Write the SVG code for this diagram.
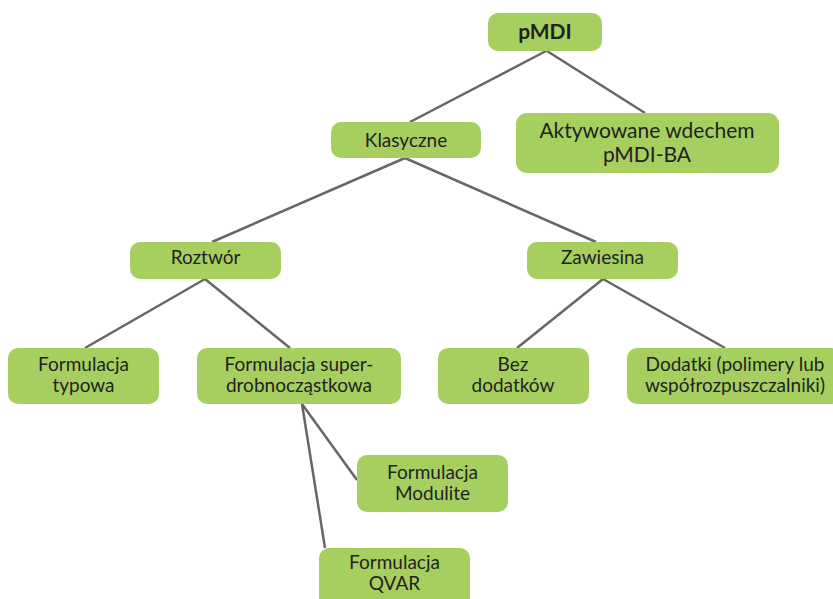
<svg xmlns="http://www.w3.org/2000/svg" width="833" height="599" viewBox="0 0 833 599">
<style>
.n rect{fill:#a6cf60;}
.n text{font-family:Lato,"Open Sans","Liberation Sans",sans-serif;font-size:19px;fill:#231f20;text-anchor:middle;}
.c line{stroke:#666666;stroke-width:2.5;}
</style>
<rect width="833" height="599" fill="#ffffff"/>
<g class="c">
<line x1="546" y1="51" x2="410" y2="122"/>
<line x1="547" y1="51" x2="645" y2="113"/>
<line x1="405" y1="158" x2="212" y2="242"/>
<line x1="405" y1="158" x2="596" y2="242"/>
<line x1="205" y1="279" x2="85" y2="348"/>
<line x1="205" y1="279" x2="290" y2="348"/>
<line x1="603" y1="279" x2="517" y2="348"/>
<line x1="603" y1="279" x2="725" y2="348"/>
<line x1="302" y1="404" x2="357" y2="480"/>
<line x1="302" y1="404" x2="325" y2="548"/>
</g>
<g id="pmdi" class="n"><rect x="488" y="13" width="114" height="38" rx="10"/><text x="545" y="39" style="font-weight:bold;font-size:21px">pMDI</text></g>
<g id="aktywowane" class="n"><rect x="516" y="113" width="263" height="60" rx="11"/><text x="647" y="138" style="font-size:21px">Aktywowane wdechem</text><text x="647" y="162" style="font-size:21px">pMDI-BA</text></g>
<g id="klasyczne" class="n"><rect x="331" y="122" width="150" height="36" rx="10"/><text x="406" y="147">Klasyczne</text></g>
<g id="roztwor" class="n"><rect x="130" y="242" width="151" height="37" rx="10"/><text x="205.5" y="264">Roztwór</text></g>
<g id="zawiesina" class="n"><rect x="527" y="242" width="151" height="37" rx="10"/><text x="602.5" y="264">Zawiesina</text></g>
<g id="typowa" class="n"><rect x="8" y="348" width="151" height="56" rx="10"/><text x="83.5" y="371">Formulacja</text><text x="83.5" y="392">typowa</text></g>
<g id="superdrobno" class="n"><rect x="197" y="348" width="204" height="56" rx="10"/><text x="299" y="371">Formulacja super-</text><text x="299" y="392">drobnocząstkowa</text></g>
<g id="bez" class="n"><rect x="438" y="348" width="151" height="56" rx="10"/><text x="513" y="371">Bez</text><text x="513" y="392">dodatków</text></g>
<g id="dodatki" class="n"><rect x="627" y="348" width="214" height="56" rx="10"/><text x="735" y="371">Dodatki (polimery lub</text><text x="735" y="392">współrozpuszczalniki)</text></g>
<g id="modulite" class="n"><rect x="357" y="455" width="151" height="57" rx="10"/><text x="432.5" y="479">Formulacja</text><text x="432.5" y="500">Modulite</text></g>
<g id="qvar" class="n"><rect x="319" y="548" width="151" height="60" rx="10"/><text x="394.5" y="569">Formulacja</text><text x="394.5" y="590">QVAR</text></g>
</svg>
